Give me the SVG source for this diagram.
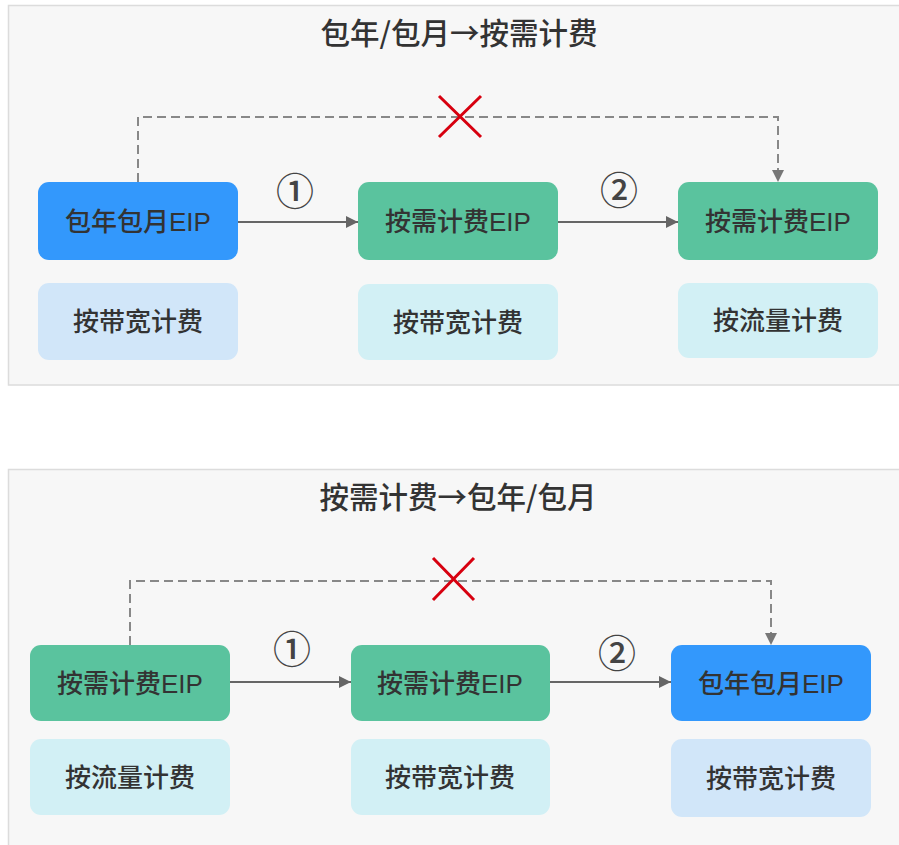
<svg xmlns="http://www.w3.org/2000/svg" width="899" height="845" viewBox="0 0 899 845">
<style>
.panel{fill:#f7f7f7;stroke:#dcdcdc;stroke-width:1.5}
.title{font-family:"Noto Sans CJK SC","Noto Sans",sans-serif;font-size:29.5px;fill:#333;text-anchor:middle;font-weight:500}
.lbl{font-family:"Liberation Sans","Noto Sans CJK SC",sans-serif;font-size:26px;fill:#333;text-anchor:middle;font-weight:500}
.num{font-family:"Noto Sans CJK SC","Noto Sans",sans-serif;font-size:38px;fill:#444;text-anchor:middle;font-weight:500}
.blue{fill:#3398fc}
.green{fill:#5ac39e}
.lblue{fill:#d1e6f9}
.lcyan{fill:#d2f0f5}
.arr{stroke:#666;stroke-width:2;fill:none}
.dash{stroke:#888;stroke-width:2;fill:none;stroke-dasharray:9 5}
.x{stroke:#d7000f;stroke-width:3;fill:none}
</style>
<defs>
<marker id="ah" viewBox="0 0 12 12" refX="12" refY="6" markerWidth="12" markerHeight="12" markerUnits="userSpaceOnUse" orient="auto">
<path d="M0,0 L12,6 L0,12 z" fill="#666"/>
</marker>
</defs>
<g id="panel-top">
<rect class="panel" x="8.5" y="5.5" width="900" height="379.5"/>
<text class="title" x="459" y="44">包年/包月→按需计费</text>
</g>
<g id="panel-bottom">
<rect class="panel" x="8.5" y="469.5" width="900" height="400"/>
<text class="title" x="458" y="508">按需计费→包年/包月</text>
</g>
<g id="connectors">
<line class="arr" x1="238" y1="222" x2="358" y2="222" marker-end="url(#ah)"/>
<line class="arr" x1="558" y1="222" x2="678" y2="222" marker-end="url(#ah)"/>
<path class="dash" d="M138,182 V117 H778 V170"/>
<path d="M772,170 L784,170 L778,182 z" fill="#777"/>
<line class="arr" x1="230" y1="682" x2="351" y2="682" marker-end="url(#ah)"/>
<line class="arr" x1="550" y1="682" x2="671" y2="682" marker-end="url(#ah)"/>
<path class="dash" d="M130,645 V581 H771 V633"/>
<path d="M765,633 L777,633 L771,645 z" fill="#777"/>
</g>
<g id="labels">
<text class="num" x="295" y="205">①</text>
<text class="num" x="619" y="204">②</text>
<text class="num" x="292" y="663">①</text>
<text class="num" x="617" y="667">②</text>
</g>
<g id="cross-top"><path class="x" d="M439,96 L481,137 M481,96 L439,137"/></g>
<g id="cross-bottom"><path class="x" d="M433,558 L474,600 M474,558 L433,600"/></g>
<g id="t-node1"><rect class="blue" x="38" y="182" width="200" height="78" rx="11"/><text class="lbl" x="138" y="231">包年包月EIP</text></g>
<g id="t-sub1"><rect class="lblue" x="38" y="283" width="200" height="77" rx="11"/><text class="lbl" x="138" y="331">按带宽计费</text></g>
<g id="t-node2"><rect class="green" x="358" y="182" width="200" height="78" rx="11"/><text class="lbl" x="458" y="231">按需计费EIP</text></g>
<g id="t-sub2"><rect class="lcyan" x="358" y="284" width="200" height="76" rx="11"/><text class="lbl" x="458" y="332">按带宽计费</text></g>
<g id="t-node3"><rect class="green" x="678" y="182" width="200" height="78" rx="11"/><text class="lbl" x="778" y="231">按需计费EIP</text></g>
<g id="t-sub3"><rect class="lcyan" x="678" y="283" width="200" height="75" rx="11"/><text class="lbl" x="778" y="330">按流量计费</text></g>
<g id="b-node1"><rect class="green" x="30" y="645" width="200" height="76" rx="11"/><text class="lbl" x="130" y="693">按需计费EIP</text></g>
<g id="b-sub1"><rect class="lcyan" x="30" y="739" width="200" height="76" rx="11"/><text class="lbl" x="130" y="787">按流量计费</text></g>
<g id="b-node2"><rect class="green" x="351" y="645" width="199" height="76" rx="11"/><text class="lbl" x="450" y="693">按需计费EIP</text></g>
<g id="b-sub2"><rect class="lcyan" x="351" y="739" width="199" height="76" rx="11"/><text class="lbl" x="450" y="787">按带宽计费</text></g>
<g id="b-node3"><rect class="blue" x="671" y="645" width="200" height="76" rx="11"/><text class="lbl" x="771" y="693">包年包月EIP</text></g>
<g id="b-sub3"><rect class="lblue" x="671" y="739" width="200" height="78" rx="11"/><text class="lbl" x="771" y="788">按带宽计费</text></g>
</svg>
